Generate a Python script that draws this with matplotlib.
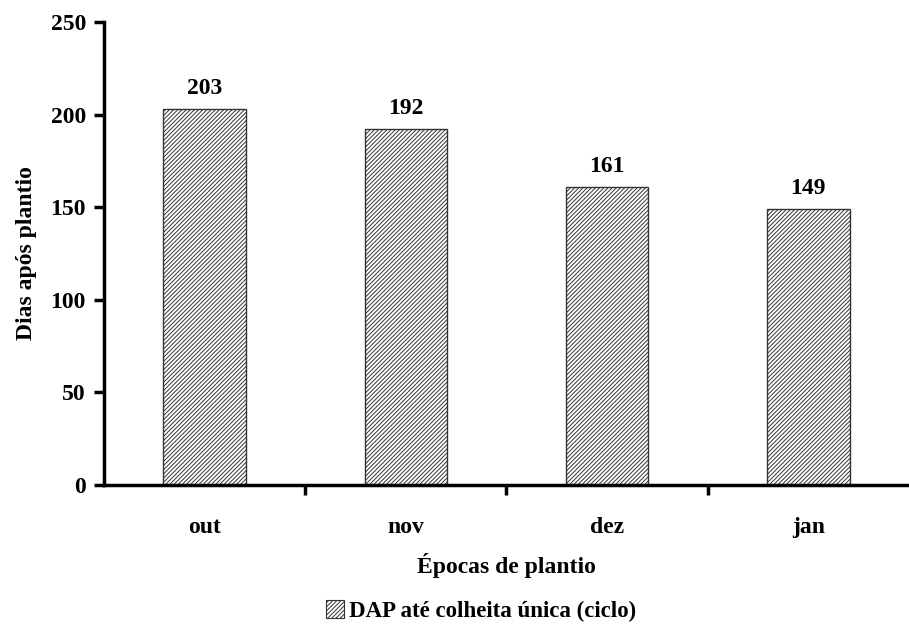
import matplotlib
matplotlib.use("Agg")
import matplotlib.pyplot as plt
from matplotlib.patches import Patch

plt.rcParams['font.family'] = ['Liberation Serif', 'DejaVu Serif']
plt.rcParams['font.weight'] = 'bold'
plt.rcParams['hatch.linewidth'] = 0.7

epocas = ['out', 'nov', 'dez', 'jan']
dias = [203, 192, 161, 149]
yticks = [0, 50, 100, 150, 200, 250]

fig = plt.figure(figsize=(9.09, 6.28), dpi=100)
ax = fig.add_axes([0.1144, 0.2277, 0.8856, 0.7373])

x = range(len(epocas))
bars = ax.bar(x, dias, width=0.41, color='white', edgecolor='#333333',
              linewidth=1.0, hatch='////////')
for xi, v in zip(x, dias):
    ax.text(xi, v + 5.5, str(v), ha='center', va='bottom', fontsize=17, fontweight='bold')

ax.set_xlim(-0.5, 3.5)
ax.set_ylim(0, 250)
ax.set_yticks(yticks)
ax.set_xticks(list(x))
ax.set_xticklabels(epocas)
ax.set_xticks([0.5, 1.5, 2.5], minor=True)
ax.tick_params(axis='x', which='major', length=0, pad=23, labelsize=17)
ax.tick_params(axis='x', which='minor', length=7, width=2.5, direction='out')
ax.tick_params(axis='y', length=7, width=2.5, direction='out', labelsize=17, pad=6)

for s in ['top', 'right']:
    ax.spines[s].set_visible(False)
for s in ['left', 'bottom']:
    ax.spines[s].set_linewidth(2.5)

ax.set_ylabel('Dias após plantio', fontsize=17, fontweight='bold', labelpad=10)
ax.set_xlabel('Épocas de plantio', fontsize=17, fontweight='bold', labelpad=11)

handle = Patch(facecolor='white', edgecolor='#333333', hatch='////////', linewidth=0.8)
fig.legend([handle], ['DAP até colheita única (ciclo)'], loc='center',
           bbox_to_anchor=(0.529, 0.027), frameon=False, fontsize=16.5,
           handlelength=0.8, handleheight=0.8, handletextpad=0.2)

fig.savefig('out.png', dpi=100)
